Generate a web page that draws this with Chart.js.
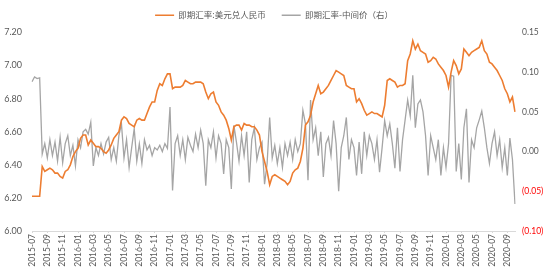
<!DOCTYPE html>
<html>
<head>
<meta charset="utf-8">
<script src="https://cdn.jsdelivr.net/npm/chart.js@4/dist/chart.umd.min.js"></script>
<style>
body{margin:0;background:#fff;}
</style>
</head>
<body>
<canvas id="myChart" width="550" height="271"></canvas>
<script>
// months on the axis, 2015-07 .. 2020-10
var months = ['2015-07','2015-08','2015-09','2015-10','2015-11','2015-12',
    '2016-01','2016-02','2016-03','2016-04','2016-05','2016-06','2016-07','2016-08','2016-09','2016-10','2016-11','2016-12',
    '2017-01','2017-02','2017-03','2017-04','2017-05','2017-06','2017-07','2017-08','2017-09','2017-10','2017-11','2017-12',
    '2018-01','2018-02','2018-03','2018-04','2018-05','2018-06','2018-07','2018-08','2018-09','2018-10','2018-11','2018-12',
    '2019-01','2019-02','2019-03','2019-04','2019-05','2019-06','2019-07','2019-08','2019-09','2019-10','2019-11','2019-12',
    '2020-01','2020-02','2020-03','2020-04','2020-05','2020-06','2020-07','2020-08','2020-09','2020-10'];

// 即期汇率:美元兑人民币 (3 readings a month)
var spot = [
    6.21,6.21,6.21, 6.21,6.39,6.36, 6.37,6.38,6.37, 6.35,6.35,6.33, 6.32,6.36,6.37, 6.40,6.45,6.48,
    6.50,6.56,6.58, 6.58,6.52,6.55, 6.53,6.51,6.51, 6.50,6.48,6.47, 6.49,6.52,6.56, 6.58,6.60,6.67,
    6.69,6.68,6.65, 6.64,6.63,6.67, 6.68,6.67,6.67, 6.71,6.75,6.78, 6.78,6.85,6.89, 6.88,6.92,6.95,
    6.95,6.86,6.87, 6.87,6.87,6.88, 6.91,6.90,6.89, 6.89,6.90,6.90, 6.90,6.89,6.84, 6.80,6.83,6.84,
    6.78,6.76,6.72, 6.70,6.67,6.62, 6.55,6.63,6.64, 6.64,6.61,6.65, 6.64,6.64,6.63, 6.63,6.61,6.58,
    6.48,6.42,6.36, 6.28,6.33,6.34, 6.33,6.32,6.31, 6.30,6.28,6.30, 6.35,6.37,6.38, 6.42,6.50,6.64,
    6.66,6.70,6.78, 6.83,6.88,6.83, 6.84,6.86,6.88, 6.91,6.94,6.97, 6.96,6.95,6.94, 6.88,6.87,6.86,
    6.86,6.78,6.80, 6.77,6.73,6.70, 6.71,6.72,6.71, 6.71,6.70,6.69, 6.76,6.91,6.92, 6.91,6.90,6.87,
    6.88,6.88,6.89, 7.03,7.07,7.15, 7.10,7.13,7.09, 7.08,7.07,7.02, 7.03,7.05,7.04, 7.01,6.99,6.97,
    6.94,6.87,6.96, 7.03,7.00,6.95, 6.98,7.10,7.08, 7.06,7.08,7.09, 7.10,7.11,7.15, 7.09,7.07,7.02,
    7.01,6.99,6.97, 6.94,6.91,6.86, 6.83,6.78,6.81, 6.72
];

// 即期汇率-中间价 (right axis)
var spread = [
    0.088,0.094,0.092, 0.093,-0.003,0.010, -0.008,0.015,-0.005, 0.012,-0.012,0.018, -0.014,0.010,0.020, -0.005,0.008,-0.018,
    0.015,0.005,0.025, 0.028,0.022,0.037, -0.018,0.005,-0.005, 0.010,-0.003,0.012, 0.018,-0.010,0.005, -0.012,0.020,0.035,
    -0.008,0.015,-0.020, 0.005,0.029,-0.012, 0.010,-0.015,0.015, 0.002,0.008,-0.005, 0.005,0.002,0.008, 0.000,0.010,0.004,
    0.056,-0.049,0.010, 0.020,-0.005,0.015, -0.010,0.018,0.008, 0.000,0.022,0.005, 0.027,0.010,-0.043, 0.015,0.005,0.025,
    -0.008,0.020,0.010, -0.028,0.015,0.005, -0.047,0.033,0.012, -0.012,0.020,-0.005, 0.025,-0.039,0.015, 0.030,-0.010,0.005,
    0.012,-0.041,-0.015, 0.043,-0.008,0.008, -0.015,0.005,-0.020, 0.010,-0.005,0.012, -0.010,0.015,0.000, 0.010,0.052,0.035,
    -0.036,0.065,0.015, 0.030,-0.005,0.025, -0.032,0.010,0.018, -0.005,0.039,0.010, -0.050,0.005,0.020, 0.043,-0.010,0.015,
    0.005,-0.030,0.012, -0.028,0.025,-0.005, 0.020,0.010,-0.010, 0.015,-0.026,0.005, 0.039,0.020,0.035, 0.010,-0.021,0.030,
    -0.025,0.015,0.040, 0.065,0.045,0.096, 0.030,0.060,0.065, 0.050,0.020,-0.030, 0.020,0.005,-0.010, 0.015,-0.030,0.005,
    -0.020,0.010,0.096, 0.095,-0.025,0.010, -0.035,0.030,0.054, -0.039,0.015,0.005, 0.030,0.040,0.051, 0.030,0.005,-0.015,
    0.010,0.025,-0.005, 0.015,-0.020,0.005, -0.030,0.017,-0.010, -0.066
];

var leftTicks = [6.00, 6.20, 6.40, 6.60, 6.80, 7.00, 7.20];
var rightTicks = [-0.10, -0.05, 0.00, 0.05, 0.10, 0.15];

var labels = [];
for (var i = 0; i < spot.length; i++) labels.push(months[Math.floor(i / 3)]);

var txt = '#595959';

// a bit more room under the legend
var legendGap = {
    id: 'legendGap',
    beforeInit: function (chart) {
        if (!chart.legend) return;
        var fit = chart.legend.fit;
        chart.legend.fit = function () {
            fit.call(this);
            this.height += 3;
        };
    }
};

var ctx = document.getElementById('myChart').getContext('2d');
var myChart = new Chart(ctx, {
    type: 'line',
    data: {
        labels: labels,
        datasets: [{
            label: '即期汇率:美元兑人民币',
            data: spot,
            yAxisID: 'y',
            borderColor: '#ED7D31',
            backgroundColor: '#ED7D31',
            borderWidth: 1.6,
            pointRadius: 0,
            tension: 0
        }, {
            label: '即期汇率-中间价（右）',
            data: spread,
            yAxisID: 'y1',
            borderColor: '#A5A5A5',
            backgroundColor: '#A5A5A5',
            borderWidth: 1.3,
            pointRadius: 0,
            tension: 0
        }]
    },
    plugins: [legendGap],
    options: {
        responsive: false,
        animation: false,
        devicePixelRatio: 1,
        layout: { padding: { left: 4, right: 6, top: -5, bottom: 4 } },
        plugins: {
            tooltip: { enabled: false },
            legend: {
                position: 'top',
                labels: {
                    usePointStyle: true,
                    pointStyle: 'line',
                    pointStyleWidth: 19,
                    boxHeight: 9,
                    padding: 16,
                    color: txt,
                    font: { family: '"Noto Sans CJK SC", "Noto Sans"', size: 8.5 }
                }
            }
        },
        scales: {
            x: {
                type: 'category',
                offset: false,
                afterBuildTicks: function (s) {
                    s.ticks = s.ticks.filter(function (t) { return t.value % 6 === 0; });
                },
                afterFit: function (s) { s.height = 36; },
                ticks: {
                    autoSkip: false,
                    minRotation: 90,
                    maxRotation: 90,
                    padding: 1,
                    color: txt,
                    font: { family: 'Lato, "Open Sans"', size: 8.5 }
                },
                grid: { drawOnChartArea: false, color: '#D9D9D9', tickLength: 2 },
                border: { color: '#D9D9D9' }
            },
            y: {
                position: 'left',
                min: 6.0,
                max: 7.2,
                afterBuildTicks: function (s) {
                    s.ticks = leftTicks.map(function (v) { return { value: v }; });
                },
                afterFit: function (s) { s.width = 28; },
                ticks: {
                    padding: 10,
                    color: txt,
                    font: { family: 'Lato, "Open Sans"', size: 9 },
                    callback: function (v) { return v.toFixed(2); }
                },
                grid: { display: false, drawTicks: false },
                border: { display: false }
            },
            y1: {
                position: 'right',
                min: -0.10,
                max: 0.15,
                afterBuildTicks: function (s) {
                    s.ticks = rightTicks.map(function (v) { return { value: v }; });
                },
                afterFit: function (s) { s.width = 29; },
                ticks: {
                    padding: 7,
                    color: function (c) { return c.tick.value < -0.001 ? '#FF0000' : txt; },
                    font: { family: 'Lato, "Open Sans"', size: 8.5 },
                    callback: function (v) {
                        return v < -0.001 ? '(' + Math.abs(v).toFixed(2) + ')' : v.toFixed(2);
                    }
                },
                grid: { display: false, drawTicks: false },
                border: { display: false }
            }
        }
    }
});
</script>
</body>
</html>
